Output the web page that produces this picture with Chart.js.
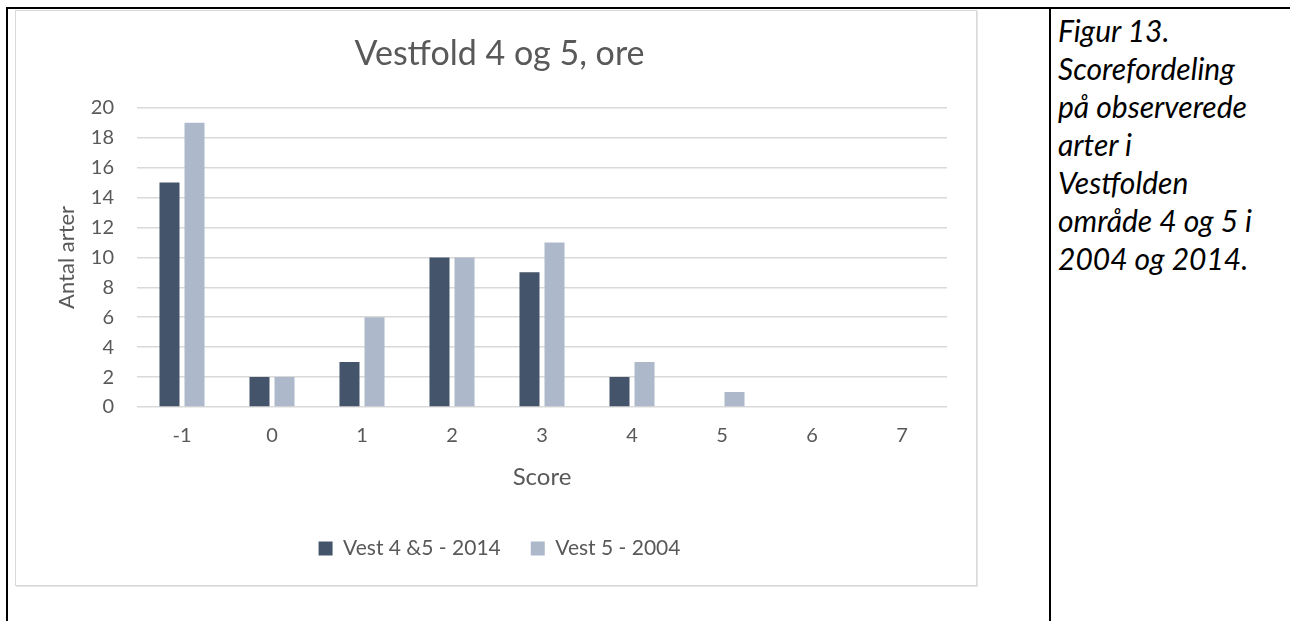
<!DOCTYPE html>
<html>
<head>
<meta charset="utf-8">
<script src="https://cdn.jsdelivr.net/npm/chart.js@4/dist/chart.umd.min.js"></script>
<style>
  body { margin: 0; background: #fff; width: 1290px; height: 621px; position: relative; overflow: hidden; }
  .rule { position: absolute; background: #000; }
  #box { position: absolute; left: 15px; top: 10px; width: 960px; height: 574px; border: 1px solid #d9d9d9; box-shadow: 1px 1px 0 #e6e6e6; }
  #caption { position: absolute; left: 1058px; top: 11px; width: 232px; font-family: Lato, sans-serif; font-style: italic; font-size: 30px; line-height: 38px; color: #000; }
</style>
</head>
<body>
<div class="rule" style="left:6px; top:7px; width:1284px; height:2px;"></div>
<div class="rule" style="left:6px; top:7px; width:2px; height:614px;"></div>
<div class="rule" style="left:1049px; top:7px; width:2px; height:614px;"></div>
<div id="box"><canvas id="myChart" width="960" height="574"></canvas></div>
<div id="caption">Figur 13.<br>Scorefordeling<br>på observerede<br>arter i<br>Vestfolden<br>område 4 og 5 i<br>2004 og 2014.</div>
<script>
"use strict";
const scores = ["-1", "0", "1", "2", "3", "4", "5", "6", "7"];
const vest2014 = [15, 2, 3, 10, 9, 2, 0, 0, 0];
const vest2004 = [19, 2, 6, 10, 11, 3, 1, 0, 0];
const seriesNames = ["Vest 4 &5 - 2014", "Vest 5 - 2004"];

const textColor = "#595959";
const gridColor = "#d9d9d9";

window.addEventListener("DOMContentLoaded", init);

function init() {
  const ctx = document.getElementById("myChart").getContext("2d");
  new Chart(ctx, {
    type: "bar",
    data: {
      labels: scores,
      datasets: [
        {
          label: seriesNames[0],
          data: vest2014,
          backgroundColor: "#44546a",
          categoryPercentage: 0.556,
          barPercentage: 0.8,
        },
        {
          label: seriesNames[1],
          data: vest2004,
          backgroundColor: "#adb9ca",
          categoryPercentage: 0.556,
          barPercentage: 0.8,
        },
      ],
    },
    options: {
      responsive: false,
      animation: false,
      // left padding only to centre the title and legend like the original
      layout: { padding: { left: 36, right: 29, top: 0, bottom: 16 } },
      plugins: {
        title: {
          display: true,
          text: "Vestfold 4 og 5, ore",
          color: textColor,
          font: { family: "Lato", size: 34, weight: "normal" },
          padding: { top: 23, bottom: 33 },
        },
        legend: {
          position: "bottom",
          labels: {
            color: textColor,
            font: { family: "Lato", size: 21 },
            boxWidth: 14,
            boxHeight: 14,
            padding: 30,
          },
        },
        tooltip: { enabled: false },
      },
      scales: {
        x: {
          grid: { display: false, drawTicks: false },
          border: { display: false },
          ticks: { color: textColor, font: { family: "Lato", size: 20 }, padding: 17 },
          title: {
            display: true,
            text: "Score",
            color: textColor,
            font: { family: "Lato", size: 24 },
            padding: { top: 10, bottom: 16 },
          },
          afterFit: function (scale) { scale.height = 101; },
        },
        y: {
          min: 0,
          max: 20,
          ticks: { stepSize: 2, color: textColor, font: { family: "Lato", size: 20 }, padding: 23 },
          grid: { color: gridColor, lineWidth: 1.5, drawTicks: false },
          border: { display: false },
          title: {
            display: true,
            text: "Antal arter",
            color: textColor,
            font: { family: "Lato", size: 22 },
            padding: { top: 2, bottom: 10 },
          },
          afterFit: function (scale) { scale.width = 85; },
        },
      },
    },
  });
}
</script>
</body>
</html>
